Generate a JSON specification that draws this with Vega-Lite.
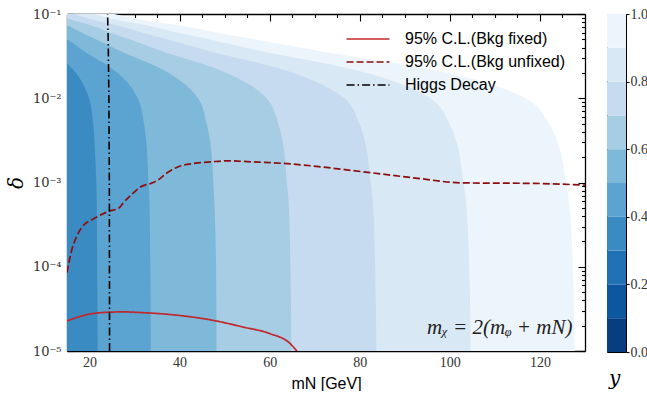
{
  "$schema": "https://vega.github.io/schema/vega-lite/v6.json",
  "padding": {"left": 6, "top": 6, "right": 0, "bottom": 0},
  "autosize": {"type": "pad"},
  "spacing": 20,
  "datasets": {
    "contours": [
      {"band": 0.95, "delta": 1e-5, "mN": 127.7}, {"band": 0.95, "delta": 1e-4, "mN": 127.3}, {"band": 0.95, "delta": 6e-4, "mN": 126.4}, {"band": 0.95, "delta": 1e-3, "mN": 125.8}, {"band": 0.95, "delta": 3e-3, "mN": 123.9}, {"band": 0.95, "delta": 5e-3, "mN": 122.0}, {"band": 0.95, "delta": 1e-2, "mN": 116.8}, {"band": 0.95, "delta": 1.5e-2, "mN": 108.5}, {"band": 0.95, "delta": 2e-2, "mN": 99.6}, {"band": 0.95, "delta": 2.6e-2, "mN": 88.1}, {"band": 0.95, "delta": 3.5e-2, "mN": 72.8}, {"band": 0.95, "delta": 5e-2, "mN": 56.8}, {"band": 0.95, "delta": 6e-2, "mN": 48.5}, {"band": 0.95, "delta": 7.4e-2, "mN": 39.6}, {"band": 0.95, "delta": 8.5e-2, "mN": 31.9}, {"band": 0.95, "delta": 1e-1, "mN": 25.5},
      {"band": 0.85, "delta": 1e-5, "mN": 104.6}, {"band": 0.85, "delta": 1e-4, "mN": 104.3}, {"band": 0.85, "delta": 6e-4, "mN": 103.6}, {"band": 0.85, "delta": 1e-3, "mN": 103.0}, {"band": 0.85, "delta": 3e-3, "mN": 101.5}, {"band": 0.85, "delta": 5e-3, "mN": 99.9}, {"band": 0.85, "delta": 1e-2, "mN": 95.7}, {"band": 0.85, "delta": 1.5e-2, "mN": 88.9}, {"band": 0.85, "delta": 2e-2, "mN": 81.6}, {"band": 0.85, "delta": 2.6e-2, "mN": 72.2}, {"band": 0.85, "delta": 3.5e-2, "mN": 59.6}, {"band": 0.85, "delta": 5e-2, "mN": 46.5}, {"band": 0.85, "delta": 6e-2, "mN": 39.7}, {"band": 0.85, "delta": 7.4e-2, "mN": 32.4}, {"band": 0.85, "delta": 8.5e-2, "mN": 26.2}, {"band": 0.85, "delta": 1e-1, "mN": 20.9},
      {"band": 0.75, "delta": 1e-5, "mN": 83.7}, {"band": 0.75, "delta": 1e-4, "mN": 83.4}, {"band": 0.75, "delta": 6e-4, "mN": 82.9}, {"band": 0.75, "delta": 1e-3, "mN": 82.4}, {"band": 0.75, "delta": 3e-3, "mN": 81.2}, {"band": 0.75, "delta": 5e-3, "mN": 79.9}, {"band": 0.75, "delta": 1e-2, "mN": 76.6}, {"band": 0.75, "delta": 1.5e-2, "mN": 71.1}, {"band": 0.75, "delta": 2e-2, "mN": 65.3}, {"band": 0.75, "delta": 2.6e-2, "mN": 57.8}, {"band": 0.75, "delta": 3.5e-2, "mN": 47.7}, {"band": 0.75, "delta": 5e-2, "mN": 37.2}, {"band": 0.75, "delta": 6e-2, "mN": 31.8}, {"band": 0.75, "delta": 7.4e-2, "mN": 25.9}, {"band": 0.75, "delta": 8.5e-2, "mN": 20.9}, {"band": 0.75, "delta": 1e-1, "mN": 16.7},
      {"band": 0.65, "delta": 1e-5, "mN": 64.8}, {"band": 0.65, "delta": 1e-4, "mN": 64.6}, {"band": 0.65, "delta": 6e-4, "mN": 64.2}, {"band": 0.65, "delta": 1e-3, "mN": 63.8}, {"band": 0.65, "delta": 3e-3, "mN": 62.9}, {"band": 0.65, "delta": 5e-3, "mN": 61.9}, {"band": 0.65, "delta": 1e-2, "mN": 59.3}, {"band": 0.65, "delta": 1.5e-2, "mN": 55.1}, {"band": 0.65, "delta": 2e-2, "mN": 50.5}, {"band": 0.65, "delta": 2.6e-2, "mN": 44.7}, {"band": 0.65, "delta": 3.5e-2, "mN": 36.9}, {"band": 0.65, "delta": 5e-2, "mN": 28.8}, {"band": 0.65, "delta": 6e-2, "mN": 24.6}, {"band": 0.65, "delta": 7.4e-2, "mN": 20.1}, {"band": 0.65, "delta": 8.5e-2, "mN": 16.2}, {"band": 0.65, "delta": 1e-1, "mN": 13.0},
      {"band": 0.55, "delta": 1e-5, "mN": 48.2}, {"band": 0.55, "delta": 1e-4, "mN": 48.1}, {"band": 0.55, "delta": 6e-4, "mN": 47.7}, {"band": 0.55, "delta": 1e-3, "mN": 47.5}, {"band": 0.55, "delta": 3e-3, "mN": 46.8}, {"band": 0.55, "delta": 5e-3, "mN": 46.0}, {"band": 0.55, "delta": 1e-2, "mN": 44.1}, {"band": 0.55, "delta": 1.5e-2, "mN": 41.0}, {"band": 0.55, "delta": 2e-2, "mN": 37.6}, {"band": 0.55, "delta": 2.6e-2, "mN": 33.3}, {"band": 0.55, "delta": 3.5e-2, "mN": 27.5}, {"band": 0.55, "delta": 5e-2, "mN": 21.4}, {"band": 0.55, "delta": 6e-2, "mN": 18.3}, {"band": 0.55, "delta": 7.4e-2, "mN": 14.9}, {"band": 0.55, "delta": 8.5e-2, "mN": 12.1}, {"band": 0.55, "delta": 1e-1, "mN": 9.6},
      {"band": 0.45, "delta": 1e-5, "mN": 33.6}, {"band": 0.45, "delta": 1e-4, "mN": 33.5}, {"band": 0.45, "delta": 6e-4, "mN": 33.3}, {"band": 0.45, "delta": 1e-3, "mN": 33.1}, {"band": 0.45, "delta": 3e-3, "mN": 32.6}, {"band": 0.45, "delta": 5e-3, "mN": 32.1}, {"band": 0.45, "delta": 1e-2, "mN": 30.7}, {"band": 0.45, "delta": 1.5e-2, "mN": 28.6}, {"band": 0.45, "delta": 2e-2, "mN": 26.2}, {"band": 0.45, "delta": 2.6e-2, "mN": 23.2}, {"band": 0.45, "delta": 3.5e-2, "mN": 19.2}, {"band": 0.45, "delta": 5e-2, "mN": 15.0}, {"band": 0.45, "delta": 6e-2, "mN": 12.8}, {"band": 0.45, "delta": 7.4e-2, "mN": 10.4}, {"band": 0.45, "delta": 8.5e-2, "mN": 8.4}, {"band": 0.45, "delta": 1e-1, "mN": 6.7},
      {"band": 0.35, "delta": 1e-5, "mN": 21.8}, {"band": 0.35, "delta": 1e-4, "mN": 21.7}, {"band": 0.35, "delta": 6e-4, "mN": 21.6}, {"band": 0.35, "delta": 1e-3, "mN": 21.5}, {"band": 0.35, "delta": 3e-3, "mN": 21.1}, {"band": 0.35, "delta": 5e-3, "mN": 20.8}, {"band": 0.35, "delta": 1e-2, "mN": 19.9}, {"band": 0.35, "delta": 1.5e-2, "mN": 18.5}, {"band": 0.35, "delta": 2e-2, "mN": 17.0}, {"band": 0.35, "delta": 2.6e-2, "mN": 15.0}, {"band": 0.35, "delta": 3.5e-2, "mN": 12.4}, {"band": 0.35, "delta": 5e-2, "mN": 9.7}, {"band": 0.35, "delta": 6e-2, "mN": 8.3}, {"band": 0.35, "delta": 7.4e-2, "mN": 6.8}, {"band": 0.35, "delta": 8.5e-2, "mN": 5.5}, {"band": 0.35, "delta": 1e-1, "mN": 4.4}
    ],
    "limits": [
      {"series": "95% C.L.(Bkg fixed)", "mN": 15, "delta": 2.28e-5},
      {"series": "95% C.L.(Bkg fixed)", "mN": 20, "delta": 2.74e-5},
      {"series": "95% C.L.(Bkg fixed)", "mN": 24.5, "delta": 2.89e-5},
      {"series": "95% C.L.(Bkg fixed)", "mN": 27.5, "delta": 2.91e-5},
      {"series": "95% C.L.(Bkg fixed)", "mN": 32, "delta": 2.85e-5},
      {"series": "95% C.L.(Bkg fixed)", "mN": 40, "delta": 2.64e-5},
      {"series": "95% C.L.(Bkg fixed)", "mN": 48, "delta": 2.28e-5},
      {"series": "95% C.L.(Bkg fixed)", "mN": 54, "delta": 1.93e-5},
      {"series": "95% C.L.(Bkg fixed)", "mN": 60, "delta": 1.61e-5},
      {"series": "95% C.L.(Bkg fixed)", "mN": 64.5, "delta": 1.23e-5},
      {"series": "95% C.L.(Bkg fixed)", "mN": 66, "delta": 1.0e-5},
      {"series": "95% C.L.(Bkg fixed)", "mN": 67, "delta": 8.5e-6},
      {"series": "95% C.L.(Bkg unfixed)", "mN": 15, "delta": 8.5e-5},
      {"series": "95% C.L.(Bkg unfixed)", "mN": 16.04, "delta": 1.57e-4},
      {"series": "95% C.L.(Bkg unfixed)", "mN": 17, "delta": 2.19e-4},
      {"series": "95% C.L.(Bkg unfixed)", "mN": 18.1, "delta": 2.85e-4},
      {"series": "95% C.L.(Bkg unfixed)", "mN": 21.07, "delta": 3.75e-4},
      {"series": "95% C.L.(Bkg unfixed)", "mN": 24.4, "delta": 4.57e-4},
      {"series": "95% C.L.(Bkg unfixed)", "mN": 26.6, "delta": 5.01e-4},
      {"series": "95% C.L.(Bkg unfixed)", "mN": 27.4, "delta": 5.65e-4},
      {"series": "95% C.L.(Bkg unfixed)", "mN": 29.2, "delta": 7.08e-4},
      {"series": "95% C.L.(Bkg unfixed)", "mN": 31.4, "delta": 8.89e-4},
      {"series": "95% C.L.(Bkg unfixed)", "mN": 34, "delta": 9.91e-4},
      {"series": "95% C.L.(Bkg unfixed)", "mN": 35.2, "delta": 1.07e-3},
      {"series": "95% C.L.(Bkg unfixed)", "mN": 37, "delta": 1.28e-3},
      {"series": "95% C.L.(Bkg unfixed)", "mN": 39.6, "delta": 1.53e-3},
      {"series": "95% C.L.(Bkg unfixed)", "mN": 43.3, "delta": 1.69e-3},
      {"series": "95% C.L.(Bkg unfixed)", "mN": 47, "delta": 1.76e-3},
      {"series": "95% C.L.(Bkg unfixed)", "mN": 50.7, "delta": 1.81e-3},
      {"series": "95% C.L.(Bkg unfixed)", "mN": 55.9, "delta": 1.76e-3},
      {"series": "95% C.L.(Bkg unfixed)", "mN": 62.6, "delta": 1.69e-3},
      {"series": "95% C.L.(Bkg unfixed)", "mN": 81.8, "delta": 1.32e-3},
      {"series": "95% C.L.(Bkg unfixed)", "mN": 92.9, "delta": 1.12e-3},
      {"series": "95% C.L.(Bkg unfixed)", "mN": 102.6, "delta": 9.91e-4},
      {"series": "95% C.L.(Bkg unfixed)", "mN": 118.8, "delta": 9.75e-4},
      {"series": "95% C.L.(Bkg unfixed)", "mN": 130, "delta": 9.31e-4}
    ],
    "higgs": [
      {"series": "Higgs Decay", "mN": 24.0, "delta": 0.1},
      {"series": "Higgs Decay", "mN": 24.15, "delta": 0.05},
      {"series": "Higgs Decay", "mN": 24.3, "delta": 0.01},
      {"series": "Higgs Decay", "mN": 24.4, "delta": 0.001},
      {"series": "Higgs Decay", "mN": 24.45, "delta": 1e-5}
    ],
    "note": [
      {"label": "mᵪ = 2(mᵩ + mN)", "mN": 127.2, "delta": 1.9e-5}
    ],
    "colorbar": [
      {"lo": 0.0, "hi": 0.1, "band": 0.05}, {"lo": 0.1, "hi": 0.2, "band": 0.15}, {"lo": 0.2, "hi": 0.3, "band": 0.25}, {"lo": 0.3, "hi": 0.4, "band": 0.35}, {"lo": 0.4, "hi": 0.5, "band": 0.45},
      {"lo": 0.5, "hi": 0.6, "band": 0.55}, {"lo": 0.6, "hi": 0.7, "band": 0.65}, {"lo": 0.7, "hi": 0.8, "band": 0.75}, {"lo": 0.8, "hi": 0.9, "band": 0.85}, {"lo": 0.9, "hi": 1.0, "band": 0.95}
    ]
  },
  "hconcat": [
    {
      "width": 518,
      "height": 337,
      "layer": [
        {
          "data": {"name": "contours"},
          "mark": {"type": "area", "orient": "horizontal", "interpolate": "monotone", "clip": true},
          "encoding": {
            "y": {"field": "delta", "type": "quantitative",
                  "scale": {"type": "log", "domain": [1e-5, 0.1], "nice": false},
                  "axis": {"orient": "left", "values": [1e-5, 1e-4, 1e-3, 1e-2, 1e-1],
                           "labelExpr": "datum.value > 0.05 ? '10⁻¹' : datum.value > 0.005 ? '10⁻²' : datum.value > 0.0005 ? '10⁻³' : datum.value > 0.00005 ? '10⁻⁴' : '10⁻⁵'",
                           "labelFont": "DejaVu Serif", "labelFontSize": 13,
                           "tickSize": -7, "labelPadding": 13, "title": "δ", "titleFont": "DejaVu Serif", "titleFontStyle": "italic", "titleFontSize": 20, "titlePadding": 6}},
            "x": {"field": "mN", "type": "quantitative", "stack": null,
                  "scale": {"domain": [15, 130], "nice": false, "zero": false},
                  "axis": {"orient": "bottom", "values": [20, 40, 60, 80, 100, 120], "tickSize": -7, "labelPadding": 11,
                           "title": "mN [GeV]", "titleFont": "Liberation Sans", "titleFontSize": 16, "titlePadding": 6}},
            "x2": {"datum": 15},
            "fill": {"field": "band", "type": "ordinal",
                     "scale": {"domain": [0.05, 0.15, 0.25, 0.35, 0.45, 0.55, 0.65, 0.75, 0.85, 0.95],
                               "range": ["#083d7f", "#0d57a1", "#2171b5", "#3b8bc3", "#5ba3d0", "#7fb9da", "#a6cde4", "#c6dbef", "#d9e8f5", "#edf5fc"]},
                     "legend": null}
          }
        },
        {
          "data": {"name": "limits"},
          "mark": {"type": "line", "interpolate": "monotone", "clip": true, "strokeWidth": 1.7},
          "encoding": {
            "x": {"field": "mN", "type": "quantitative", "scale": {"domain": [15, 130], "nice": false, "zero": false},
                  "axis": {"orient": "bottom", "values": [25, 30, 35, 45, 50, 55, 65, 70, 75, 85, 90, 95, 105, 110, 115, 125], "tickSize": -3.5, "labels": false, "domain": false, "title": null}},
            "y": {"field": "delta", "type": "quantitative", "scale": {"type": "log", "domain": [1e-5, 0.1], "nice": false},
                  "axis": {"orient": "left", "values": [2e-5, 3e-5, 4e-5, 5e-5, 6e-5, 7e-5, 8e-5, 9e-5, 2e-4, 3e-4, 4e-4, 5e-4, 6e-4, 7e-4, 8e-4, 9e-4, 2e-3, 3e-3, 4e-3, 5e-3, 6e-3, 7e-3, 8e-3, 9e-3, 2e-2, 3e-2, 4e-2, 5e-2, 6e-2, 7e-2, 8e-2, 9e-2],
                           "tickSize": -3.5, "labels": false, "domain": false, "title": null}},
            "stroke": {"field": "series", "type": "nominal",
                       "scale": {"domain": ["95% C.L.(Bkg fixed)", "95% C.L.(Bkg unfixed)", "Higgs Decay"], "range": ["#c0282b", "#8b0e0e", "#000000"]},
                       "legend": {"orient": "none", "legendX": 289, "legendY": 13, "title": null, "symbolType": "M-2,0H2", "symbolSize": 460, "symbolStrokeWidth": 1.6,
                                  "labelFont": "Liberation Sans", "labelFontSize": 16, "labelColor": "black", "labelOffset": 25, "labelLimit": 0, "rowPadding": 3, "padding": 0}},
            "strokeDash": {"field": "series", "type": "nominal",
                           "scale": {"domain": ["95% C.L.(Bkg fixed)", "95% C.L.(Bkg unfixed)", "Higgs Decay"], "range": [[1, 0], [7, 3], [8, 3, 1.5, 3]]},
                           "legend": {"orient": "none", "legendX": 289, "legendY": 13, "title": null, "symbolType": "M-2,0H2", "symbolSize": 460, "symbolStrokeWidth": 1.6,
                                      "labelFont": "Liberation Sans", "labelFontSize": 16, "labelColor": "black", "labelOffset": 25, "labelLimit": 0, "rowPadding": 3, "padding": 0}}
          }
        },
        {
          "data": {"name": "higgs"},
          "mark": {"type": "line", "clip": true, "strokeWidth": 1.6},
          "encoding": {
            "x": {"field": "mN", "type": "quantitative", "scale": {"domain": [15, 130], "nice": false, "zero": false},
                  "axis": {"orient": "top", "values": [20, 40, 60, 80, 100, 120], "tickSize": -7, "labels": false, "title": null}},
            "y": {"field": "delta", "type": "quantitative", "scale": {"type": "log", "domain": [1e-5, 0.1], "nice": false},
                  "axis": {"orient": "right", "values": [1e-5, 1e-4, 1e-3, 1e-2, 1e-1], "tickSize": -7, "labels": false, "title": null}},
            "order": {"field": "delta", "type": "quantitative"},
            "stroke": {"field": "series", "type": "nominal"},
            "strokeDash": {"field": "series", "type": "nominal"}
          }
        },
        {
          "data": {"name": "note"},
          "mark": {"type": "text", "align": "right", "baseline": "middle", "font": "Liberation Serif", "fontStyle": "italic", "fontSize": 21, "color": "#222"},
          "encoding": {
            "x": {"field": "mN", "type": "quantitative", "scale": {"domain": [15, 130], "nice": false, "zero": false},
                  "axis": {"orient": "top", "values": [25, 30, 35, 45, 50, 55, 65, 70, 75, 85, 90, 95, 105, 110, 115, 125], "tickSize": -3.5, "labels": false, "domain": false, "title": null}},
            "y": {"field": "delta", "type": "quantitative", "scale": {"type": "log", "domain": [1e-5, 0.1], "nice": false},
                  "axis": {"orient": "right", "values": [2e-5, 3e-5, 4e-5, 5e-5, 6e-5, 7e-5, 8e-5, 9e-5, 2e-4, 3e-4, 4e-4, 5e-4, 6e-4, 7e-4, 8e-4, 9e-4, 2e-3, 3e-3, 4e-3, 5e-3, 6e-3, 7e-3, 8e-3, 9e-3, 2e-2, 3e-2, 4e-2, 5e-2, 6e-2, 7e-2, 8e-2, 9e-2],
                           "tickSize": -3.5, "labels": false, "domain": false, "title": null}},
            "text": {"field": "label", "type": "nominal"}
          }
        }
      ],
      "resolve": {"axis": {"x": "independent", "y": "independent"}}
    },
    {
      "width": 19,
      "height": 338,
      "view": {"stroke": "black", "strokeWidth": 1},
      "data": {"name": "colorbar"},
      "mark": {"type": "rect"},
      "encoding": {
        "y": {"field": "lo", "type": "quantitative", "scale": {"domain": [0, 1], "nice": false},
              "axis": {"orient": "right", "values": [0, 0.2, 0.4, 0.6, 0.8, 1.0], "format": ".1f", "tickSize": 3, "labelPadding": 1, "domain": false, "title": null}},
        "y2": {"field": "hi"},
        "fill": {"field": "band", "type": "ordinal",
                 "scale": {"domain": [0.05, 0.15, 0.25, 0.35, 0.45, 0.55, 0.65, 0.75, 0.85, 0.95],
                           "range": ["#083d7f", "#0d57a1", "#2171b5", "#3b8bc3", "#5ba3d0", "#7fb9da", "#a6cde4", "#c6dbef", "#d9e8f5", "#edf5fc"]},
                 "legend": null}
      },
      "title": {"text": "y", "orient": "bottom", "font": "DejaVu Serif", "fontStyle": "italic", "fontSize": 20, "fontWeight": "normal", "offset": 10, "anchor": "start", "dx": 2}
    }
  ],
  "resolve": {"scale": {"stroke": "independent", "strokeDash": "independent"}},
  "config": {
    "view": {"stroke": null},
    "axis": {"grid": false, "domainColor": "black", "domainWidth": 1.3, "tickColor": "black", "tickWidth": 1.1,
             "labelColor": "#333", "labelFont": "Liberation Serif", "labelFontSize": 14, "titleFontWeight": "normal", "titleColor": "black"}
  }
}
